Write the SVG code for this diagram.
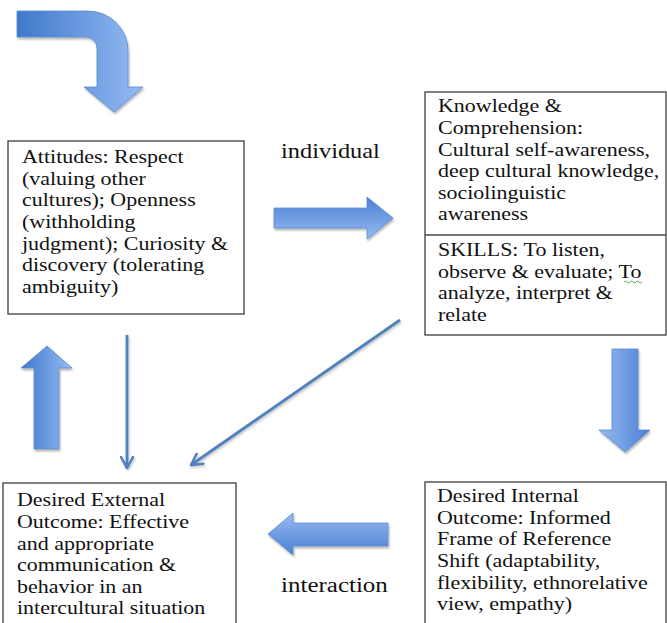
<svg xmlns="http://www.w3.org/2000/svg" width="667" height="623" viewBox="0 0 667 623">
<defs>
  <linearGradient id="gH" x1="0" y1="0" x2="1" y2="0">
    <stop offset="0" stop-color="#3f78cb"/>
    <stop offset="1" stop-color="#95bbf3"/>
  </linearGradient>
  <linearGradient id="gHr" x1="0" y1="0" x2="1" y2="0">
    <stop offset="0" stop-color="#95bbf3"/>
    <stop offset="1" stop-color="#4a80d2"/>
  </linearGradient>
  <linearGradient id="gV" x1="0" y1="0" x2="0" y2="1">
    <stop offset="0" stop-color="#4a80d2"/>
    <stop offset="1" stop-color="#95bbf3"/>
  </linearGradient>
  <linearGradient id="gVr" x1="0" y1="0" x2="0" y2="1">
    <stop offset="0" stop-color="#95bbf3"/>
    <stop offset="1" stop-color="#4a80d2"/>
  </linearGradient>
  <filter id="sh" x="-20%" y="-20%" width="140%" height="140%">
    <feDropShadow dx="1" dy="2" stdDeviation="1.2" flood-color="#000" flood-opacity="0.3"/>
  </filter>
  <filter id="shl" filterUnits="userSpaceOnUse" x="0" y="0" width="667" height="623">
    <feDropShadow dx="1" dy="1.5" stdDeviation="0.8" flood-color="#000" flood-opacity="0.25"/>
  </filter>
  <marker id="open" viewBox="0 0 14 14" refX="12" refY="7" markerWidth="14" markerHeight="14" markerUnits="userSpaceOnUse" orient="auto">
    <path d="M1,1 L12,7 L1,13" fill="none" stroke="#4f81bd" stroke-width="2.5" stroke-linecap="round" stroke-linejoin="round"/>
  </marker>
</defs>
<style>
  .box { fill: #ffffff; stroke: #4a4a4a; stroke-width: 1.4; }
  .t { font-family: "Liberation Serif", "Times New Roman", serif; font-size: 18px; fill: #111; }
  .lbl { font-family: "Liberation Serif", "Times New Roman", serif; font-size: 20px; fill: #111; }
  .blk { stroke: #5a8ad0; stroke-width: 0.8; filter: url(#sh); }
  .thin { fill: none; stroke: #4f81bd; stroke-width: 2.8; filter: url(#shl); }
</style>

<g id="start-arrow">
  <path class="blk" fill="url(#gH)" d="M17,11 H88 A40,40 0 0 1 128,51 V87 H143 L114,112 L84,87 H97 V48 A11,11 0 0 0 86,37 H17 Z"/>
</g>

<g id="attitudes">
  <rect class="box" x="8" y="141" width="236" height="173"/>
  <text class="t" transform="translate(22 0) scale(1.22 1)">
    <tspan x="0" y="163">Attitudes: Respect</tspan>
    <tspan x="0" y="185">(valuing other</tspan>
    <tspan x="0" y="206">cultures); Openness</tspan>
    <tspan x="0" y="228">(withholding</tspan>
    <tspan x="0" y="250">judgment); Curiosity &amp;</tspan>
    <tspan x="0" y="271">discovery (tolerating</tspan>
    <tspan x="0" y="293">ambiguity)</tspan>
  </text>
</g>

<g id="knowledge-skills">
  <rect class="box" x="425" y="92" width="241" height="243"/>
  <line x1="425" y1="235" x2="666" y2="235" stroke="#4a4a4a" stroke-width="1.4"/>
  <text class="t" transform="translate(438 0) scale(1.22 1)">
    <tspan x="0" y="112">Knowledge &amp;</tspan>
    <tspan x="0" y="134">Comprehension:</tspan>
    <tspan x="0" y="156">Cultural self-awareness,</tspan>
    <tspan x="0" y="177">deep cultural knowledge,</tspan>
    <tspan x="0" y="199">sociolinguistic</tspan>
    <tspan x="0" y="220">awareness</tspan>
    <tspan x="0" y="256">SKILLS: To listen,</tspan>
    <tspan x="0" y="278">observe &amp; evaluate; To</tspan>
    <tspan x="0" y="299">analyze, interpret &amp;</tspan>
    <tspan x="0" y="321">relate</tspan>
  </text>
  <path d="M624,282 q1.5,-2 3,0 t3,0 t3,0 t3,0 t3,0 t3,0" fill="none" stroke="#3c9a3c" stroke-width="0.9"/>
</g>

<g id="external-outcome">
  <rect class="box" x="3" y="483" width="233" height="150"/>
  <text class="t" transform="translate(17 0) scale(1.22 1)">
    <tspan x="0" y="506">Desired External</tspan>
    <tspan x="0" y="528">Outcome: Effective</tspan>
    <tspan x="0" y="550">and appropriate</tspan>
    <tspan x="0" y="571">communication &amp;</tspan>
    <tspan x="0" y="593">behavior in an</tspan>
    <tspan x="0" y="614">intercultural situation</tspan>
  </text>
</g>

<g id="internal-outcome">
  <rect class="box" x="425" y="482" width="241" height="150"/>
  <text class="t" transform="translate(437 0) scale(1.22 1)">
    <tspan x="0" y="502">Desired Internal</tspan>
    <tspan x="0" y="524">Outcome: Informed</tspan>
    <tspan x="0" y="545">Frame of Reference</tspan>
    <tspan x="0" y="567">Shift (adaptability,</tspan>
    <tspan x="0" y="589">flexibility, ethnorelative</tspan>
    <tspan x="0" y="610">view, empathy)</tspan>
  </text>
</g>

<g id="connectors">
  <path class="blk" fill="url(#gV)" d="M274,208 H367 V197 L393,218 L367,239 V228 H274 Z"/>
  <path class="blk" fill="url(#gHr)" d="M612,349 H638 V430 H650 L625,452 L599,430 H612 Z"/>
  <path class="blk" fill="url(#gVr)" d="M388,523 H293 V513 L268,534 L293,555 V546 H388 Z"/>
  <path class="blk" fill="url(#gH)" d="M34,449 V368 H21 L47,346 L72,368 H59 V449 Z"/>
  <line class="thin" x1="127" y1="335" x2="127" y2="468" marker-end="url(#open)"/>
  <line class="thin" x1="400" y1="320" x2="191" y2="465" marker-end="url(#open)"/>
  <text class="lbl" transform="translate(281 0) scale(1.22 1)" x="0" y="158">individual</text>
  <text class="lbl" transform="translate(281 0) scale(1.25 1)" x="0" y="592">interaction</text>
</g>
</svg>
